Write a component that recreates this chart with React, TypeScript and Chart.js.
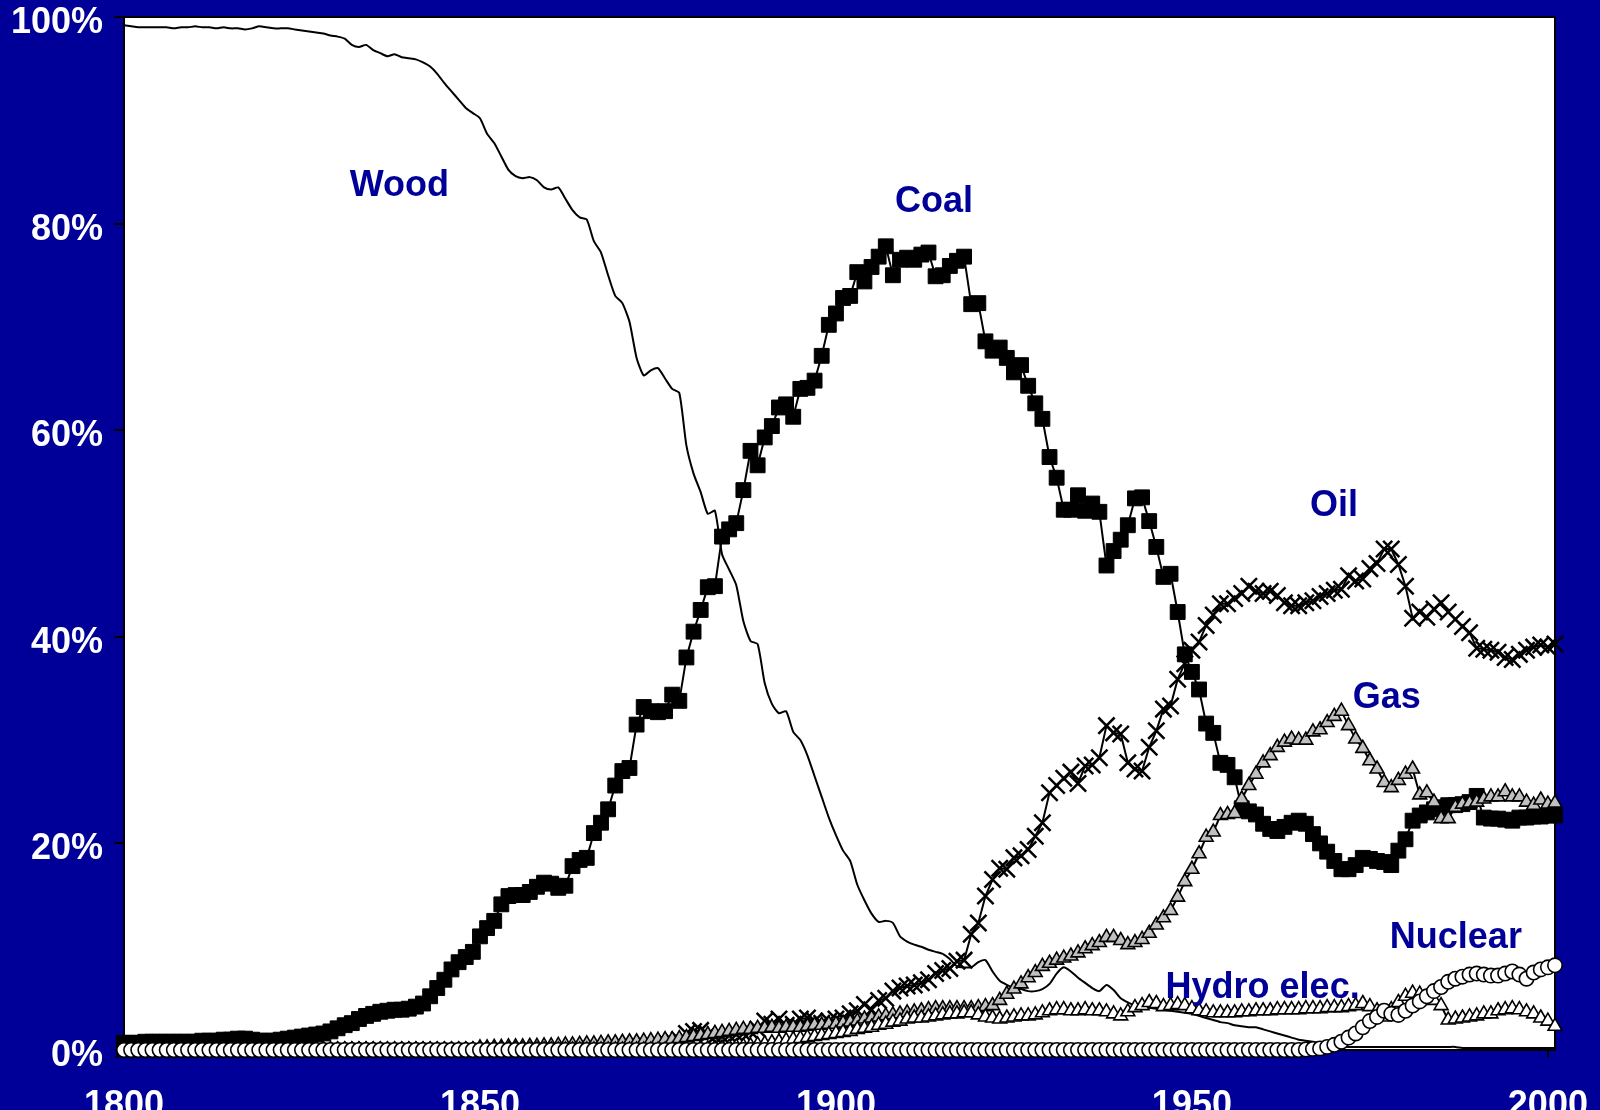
import React, { useEffect, useRef } from "react";
import { Chart, registerables } from "chart.js";

Chart.register(...registerables);

const BG = "#000099";
const LABEL_BLUE = "#000099";
const FONT = '"Liberation Sans", Arial, Helvetica, sans-serif';

const FIRST_YEAR = 1800;
const LAST_YEAR = 2001;
const YEARS: number[] = Array.from({ length: LAST_YEAR - FIRST_YEAR + 1 }, (_, i) => FIRST_YEAR + i);

const X_TICKS = [1800, 1850, 1900, 1950, 2000];
const Y_TICKS = [0, 20, 40, 60, 80, 100];

// share of primary energy, %, one value per year 1800..2001
const WOOD = [
  99.2, 99.1, 99.0, 99.0, 99.0, 99.0, 99.0, 98.9, 99.0, 99.0,
  99.1, 99.0, 99.0, 98.9, 99.0, 98.9, 98.9, 98.8, 98.9, 99.1,
  99.0, 98.9, 98.9, 98.9, 98.8, 98.7, 98.6, 98.5, 98.4, 98.2,
  98.1, 97.9, 97.3, 97.1, 97.3, 96.8, 96.5, 96.2, 96.4, 96.1,
  96.0, 95.9, 95.6, 95.2, 94.5, 93.6, 92.8, 92.0, 91.2, 90.7,
  90.2, 88.7, 87.8, 86.5, 85.2, 84.6, 84.4, 84.5, 84.2, 83.5,
  83.3, 83.5, 82.4, 81.3, 80.6, 80.4, 78.3, 77.2, 75.0, 73.0,
  72.3, 70.5, 67.0, 65.3, 65.8, 66.0, 65.0, 64.0, 63.6, 58.5,
  55.8, 54.0, 51.9, 52.2, 48.0, 46.5, 45.0, 41.5, 39.6, 39.3,
  35.5, 33.5, 32.6, 32.8, 30.8, 30.0, 28.5, 26.5, 24.5, 22.5,
  20.8, 19.3, 18.3, 16.0, 14.5, 13.2, 12.4, 12.5, 12.3, 11.0,
  10.5, 10.2, 10.0, 9.7, 9.5, 9.3, 8.8, 8.1, 8.0, 8.0,
  8.5, 8.7, 7.6, 6.7, 6.3, 6.0, 5.9, 5.7, 5.7, 5.9,
  6.4, 7.4, 8.0, 7.6, 7.0, 6.5, 6.0, 5.7, 6.3, 5.8,
  5.0, 4.6, 4.3, 4.2, 4.1, 4.0, 3.9, 3.8, 3.7, 3.6,
  3.5, 3.3, 3.1, 2.9, 2.7, 2.6, 2.4, 2.3, 2.2, 2.2,
  2.0, 1.8, 1.6, 1.4, 1.2, 1.0, 0.9, 0.8, 0.6, 0.5,
  0.4, 0.35, 0.3, 0.3, 0.3, 0.3, 0.3, 0.3, 0.3, 0.3,
  0.3, 0.3, 0.3, 0.3, 0.3, 0.3, 0.3, 0.3, 0.2, 0.2,
  0.2, 0.2, 0.2, 0.2, 0.2, 0.2, 0.2, 0.2, 0.2, 0.2,
  0.2, 0.2,
];

const COAL = [
  0.7, 0.7, 0.7, 0.8, 0.8, 0.8, 0.8, 0.8, 0.8, 0.8,
  0.8, 0.9, 0.9, 0.9, 1.0, 1.0, 1.1, 1.1, 1.0, 0.9,
  0.9, 0.9, 1.0, 1.1, 1.2, 1.3, 1.4, 1.5, 1.6, 1.8,
  2.1, 2.4, 2.6, 3.0, 3.3, 3.5, 3.7, 3.8, 3.9, 3.9,
  4.0, 4.2, 4.5, 5.2, 6.0, 6.8, 7.8, 8.5, 9.0, 9.5,
  11.0, 11.8, 12.5, 14.1, 14.9, 15.0, 15.0, 15.3, 15.8, 16.2,
  16.1, 15.7, 15.9, 17.8, 18.4, 18.6, 21.0, 22.0, 23.3, 25.6,
  27.0, 27.3, 31.5, 33.2, 32.8, 32.7, 32.8, 34.4, 33.8, 38.0,
  40.5, 42.6, 44.8, 44.9, 49.7, 50.4, 51.0, 54.2, 58.0, 56.6,
  59.3, 60.4, 62.2, 62.5, 61.3, 64.0, 64.1, 64.8, 67.2, 70.2,
  71.3, 72.8, 73.0, 75.3, 74.4, 75.8, 76.8, 77.8, 75.0, 76.5,
  76.7, 76.5, 77.0, 77.2, 74.9, 75.0, 75.9, 76.4, 76.8, 72.2,
  72.3, 68.6, 67.7, 68.0, 67.0, 65.6, 66.3, 64.3, 62.6, 61.1,
  57.4, 55.4, 52.3, 52.3, 53.7, 52.2, 52.9, 52.1, 46.9, 48.3,
  49.4, 50.8, 53.4, 53.5, 51.2, 48.7, 45.8, 46.1, 42.4, 38.3,
  36.6, 34.9, 31.6, 30.7, 27.8, 27.6, 26.4, 23.4, 23.1, 22.8,
  21.9, 21.4, 21.2, 21.6, 22.0, 22.2, 21.9, 20.9, 20.0, 19.2,
  18.3, 17.5, 17.5, 17.9, 18.6, 18.5, 18.3, 18.2, 17.9, 19.3,
  20.4, 22.2, 22.7, 23.0, 23.3, 23.5, 23.7, 23.7, 23.8, 24.0,
  24.6, 22.5, 22.4, 22.4, 22.3, 22.2, 22.5, 22.5, 22.6, 22.6,
  22.7, 22.7,
];

const OIL = [
  0, 0, 0, 0, 0, 0, 0, 0, 0, 0,
  0, 0, 0, 0, 0, 0, 0, 0, 0, 0,
  0, 0, 0, 0, 0, 0, 0, 0, 0, 0,
  0, 0, 0, 0, 0, 0, 0, 0, 0, 0,
  0, 0, 0, 0, 0, 0, 0, 0, 0, 0,
  0, 0, 0, 0, 0, 0, 0, 0, 0, 0,
  0.05, 0.1, 0.1, 0.15, 0.2, 0.2, 0.25, 0.3, 0.35, 0.4,
  0.4, 0.5, 0.5, 0.6, 0.6, 0.7, 0.8, 0.9, 1.0, 1.6,
  1.8, 1.9, 1.5, 1.3, 1.3, 1.4, 1.5, 1.6, 1.8, 2.0,
  2.8, 2.5, 3.0, 2.4, 2.5, 3.0, 3.1, 2.8, 2.6, 2.8,
  3.0, 3.1, 3.5, 3.8, 4.4, 3.9, 4.8, 5.0, 5.7, 6.0,
  6.2, 6.3, 6.5, 6.8, 7.4, 7.7, 7.9, 8.6, 8.7, 11.2,
  12.3, 14.9, 16.5, 17.6, 17.5, 18.6, 18.8, 19.4, 20.7, 22.0,
  24.9, 25.6, 26.3, 26.9, 25.8, 27.5, 27.6, 28.3, 31.4, 30.7,
  30.6, 27.8, 27.2, 27.0, 29.3, 30.9, 33.0, 33.3, 35.9, 37.4,
  38.7, 39.5, 41.1, 42.1, 43.2, 43.2, 43.7, 44.2, 44.9, 44.4,
  44.2, 44.4, 44.0, 43.3, 43.0, 43.0, 43.3, 43.5, 43.9, 44.2,
  44.5, 44.6, 45.9, 45.4, 45.6, 46.6, 47.1, 48.5, 48.5, 47.0,
  44.9, 41.8, 42.4, 41.9, 42.7, 43.3, 42.4, 41.7, 41.0, 40.4,
  38.9, 38.8, 38.7, 38.5, 38.0, 37.8, 38.3, 38.7, 39.0, 39.2,
  39.0, 39.3,
];

const GAS = [
  0, 0, 0, 0, 0, 0, 0, 0, 0, 0,
  0, 0, 0, 0, 0, 0, 0, 0, 0, 0,
  0, 0, 0, 0, 0, 0, 0, 0, 0, 0,
  0, 0, 0, 0, 0, 0, 0, 0, 0, 0,
  0, 0, 0, 0, 0, 0, 0, 0, 0, 0,
  0.2, 0.2, 0.25, 0.25, 0.3, 0.3, 0.3, 0.35, 0.35, 0.4,
  0.4, 0.45, 0.5, 0.5, 0.55, 0.6, 0.6, 0.65, 0.7, 0.7,
  0.75, 0.8, 0.8, 0.85, 0.9, 0.95, 1.0, 1.0, 1.1, 1.2,
  1.3, 1.4, 1.5, 1.6, 1.7, 1.8, 1.9, 2.0, 2.0, 2.1,
  2.1, 2.2, 2.1, 2.2, 2.2, 2.2, 2.3, 2.4, 2.4, 2.5,
  2.5, 2.6, 2.7, 2.8, 3.0, 3.1, 3.2, 3.3, 3.4, 3.5,
  3.6, 3.7, 3.8, 3.9, 4.0, 4.0, 4.0, 4.0, 4.0, 4.0,
  4.1, 4.2, 4.3, 4.8, 5.4, 5.9, 6.4, 7.0, 7.5, 8.1,
  8.4, 8.7, 8.9, 9.1, 9.4, 9.8, 10.1, 10.4, 10.9, 10.9,
  10.6, 10.2, 10.4, 10.7, 11.3, 12.1, 12.8, 13.5, 14.8, 16.3,
  17.5, 19.0, 20.6, 21.1, 22.7, 22.8, 22.9, 24.3, 25.6, 26.7,
  27.8, 28.5, 29.3, 29.8, 30.1, 30.0, 30.0, 30.8, 31.0, 31.7,
  32.3, 32.8, 31.4, 30.1, 29.2, 28.0, 27.2, 25.9, 25.4, 26.1,
  26.7, 27.2, 24.7, 24.9, 24.0, 22.4, 22.4, 23.5, 23.8, 23.9,
  24.0, 24.3, 24.5, 24.5, 25.0, 24.5, 24.5, 24.0, 23.7, 24.2,
  23.8, 23.9,
];

const HYDRO = [
  0, 0, 0, 0, 0, 0, 0, 0, 0, 0,
  0, 0, 0, 0, 0, 0, 0, 0, 0, 0,
  0, 0, 0, 0, 0, 0, 0, 0, 0, 0,
  0, 0, 0, 0, 0, 0, 0, 0, 0, 0,
  0, 0, 0, 0, 0, 0, 0, 0, 0, 0,
  0, 0, 0, 0, 0, 0, 0, 0, 0, 0,
  0, 0, 0, 0, 0, 0, 0, 0, 0, 0,
  0, 0, 0, 0, 0, 0, 0, 0, 0, 0,
  0.05, 0.1, 0.1, 0.15, 0.2, 0.25, 0.3, 0.35, 0.4, 0.5,
  0.6, 0.7, 0.8, 0.9, 1.0, 1.1, 1.2, 1.3, 1.4, 1.5,
  1.6, 1.7, 1.8, 2.0, 2.1, 2.2, 2.4, 2.5, 2.7, 2.8,
  3.0, 3.1, 3.1, 3.2, 3.3, 3.4, 3.5, 3.5, 3.6, 3.6,
  3.4, 3.2, 3.1, 3.0, 3.1, 3.2, 3.3, 3.3, 3.4, 3.6,
  3.8, 3.9, 3.9, 3.8, 3.8, 3.9, 3.8, 3.8, 3.7, 3.5,
  3.3, 3.7, 4.1, 4.3, 4.6, 4.5, 4.2, 4.3, 4.4, 4.3,
  4.0, 3.8, 3.7, 3.6, 3.6, 3.6, 3.6, 3.7, 3.7, 3.8,
  3.8, 3.8, 3.9, 3.9, 3.9, 3.9, 4.0, 4.0, 4.0, 4.1,
  4.1, 4.1, 4.2, 4.3, 4.5, 4.2, 3.8, 3.2, 3.9, 4.6,
  5.2, 5.5, 5.4, 5.1, 4.8, 4.3, 2.9, 3.0, 3.1, 3.2,
  3.3, 3.5, 3.5, 3.8, 3.9, 4.0, 3.9, 3.7, 3.5, 3.1,
  2.8, 2.3,
];

const NUCLEAR = [
  0, 0, 0, 0, 0, 0, 0, 0, 0, 0,
  0, 0, 0, 0, 0, 0, 0, 0, 0, 0,
  0, 0, 0, 0, 0, 0, 0, 0, 0, 0,
  0, 0, 0, 0, 0, 0, 0, 0, 0, 0,
  0, 0, 0, 0, 0, 0, 0, 0, 0, 0,
  0, 0, 0, 0, 0, 0, 0, 0, 0, 0,
  0, 0, 0, 0, 0, 0, 0, 0, 0, 0,
  0, 0, 0, 0, 0, 0, 0, 0, 0, 0,
  0, 0, 0, 0, 0, 0, 0, 0, 0, 0,
  0, 0, 0, 0, 0, 0, 0, 0, 0, 0,
  0, 0, 0, 0, 0, 0, 0, 0, 0, 0,
  0, 0, 0, 0, 0, 0, 0, 0, 0, 0,
  0, 0, 0, 0, 0, 0, 0, 0, 0, 0,
  0, 0, 0, 0, 0, 0, 0, 0, 0, 0,
  0, 0, 0, 0, 0, 0, 0, 0, 0, 0,
  0, 0, 0, 0, 0, 0, 0, 0, 0, 0,
  0, 0, 0, 0, 0, 0, 0.05, 0.1, 0.15, 0.3,
  0.5, 0.8, 1.2, 1.6, 2.2, 2.8, 3.2, 3.8, 3.5, 3.4,
  3.8, 4.3, 4.7, 5.2, 5.7, 6.1, 6.6, 6.9, 7.1, 7.3,
  7.4, 7.3, 7.2, 7.2, 7.4, 7.6, 7.3, 6.9, 7.5, 7.8,
  8.0, 8.2,
];

// series names and where their names sit (year, percent)
const SERIES_LABELS = [
  { text: "Wood", year: 1831.7, pct: 83.6 },
  { text: "Coal", year: 1908.3, pct: 82.1 },
  { text: "Oil", year: 1966.6, pct: 52.7 },
  { text: "Gas", year: 1972.6, pct: 34.1 },
  { text: "Nuclear", year: 1977.8, pct: 10.8 },
  { text: "Hydro elec.", year: 1946.3, pct: 6.0 },
];

const toPoints = (arr: number[]) => YEARS.map((x, i) => ({ x, y: arr[i] }));

const framePlugin = {
  id: "frame",
  beforeDraw(chart: any) {
    const { ctx, chartArea: a, width, height } = chart;
    ctx.save();
    ctx.fillStyle = BG;
    ctx.fillRect(0, 0, width, height);
    ctx.fillStyle = "#ffffff";
    ctx.fillRect(a.left, a.top, a.right - a.left, a.bottom - a.top);
    ctx.restore();
  },
  beforeDatasetsDraw(chart: any) {
    const { ctx, chartArea: a } = chart;
    ctx.save();
    ctx.strokeStyle = "#000000";
    ctx.lineWidth = 2;
    ctx.strokeRect(a.left, a.top, a.right - a.left, a.bottom - a.top);
    ctx.restore();
  },
};

const labelPlugin = {
  id: "seriesLabels",
  afterDatasetsDraw(chart: any) {
    const { ctx } = chart;
    const xs = chart.scales.x;
    const ys = chart.scales.y;
    ctx.save();
    ctx.fillStyle = LABEL_BLUE;
    ctx.font = `bold 36px ${FONT}`;
    ctx.textAlign = "left";
    ctx.textBaseline = "middle";
    SERIES_LABELS.forEach((l) => {
      ctx.fillText(l.text, xs.getPixelForValue(l.year), ys.getPixelForValue(l.pct));
    });
    ctx.restore();
  },
};

export default function App() {
  const ref = useRef<HTMLCanvasElement | null>(null);

  useEffect(() => {
    document.body.style.margin = "0";
    document.body.style.background = BG;
    const canvas = ref.current;
    if (!canvas) return;

    const common = {
      borderColor: "#000000",
      borderWidth: 2,
      tension: 0,
      clip: false as any,
      pointBorderColor: "#000000",
    };

    const chart = new Chart(canvas, {
      type: "line",
      data: {
        datasets: [
          {
            ...common,
            label: "Nuclear",
            data: toPoints(NUCLEAR),
            pointStyle: "circle",
            pointRadius: 7.2,
            pointBackgroundColor: "#ffffff",
            pointBorderWidth: 1.6,
          },
          {
            ...common,
            label: "Hydro elec.",
            data: toPoints(HYDRO),
            pointStyle: "triangle",
            pointRadius: 8,
            pointBackgroundColor: "#ffffff",
            pointBorderWidth: 1.6,
          },
          {
            ...common,
            label: "Gas",
            data: toPoints(GAS),
            pointStyle: "triangle",
            pointRadius: 8,
            pointBackgroundColor: "#c0c0c0",
            pointBorderWidth: 1.6,
          },
          {
            ...common,
            label: "Oil",
            data: toPoints(OIL),
            pointStyle: "crossRot",
            pointRadius: 11.5,
            pointBorderWidth: 2.5,
          },
          {
            ...common,
            label: "Coal",
            data: toPoints(COAL),
            pointStyle: "rect",
            pointRadius: 10.5,
            pointBackgroundColor: "#000000",
            pointBorderWidth: 1,
          },
          {
            ...common,
            label: "Wood",
            data: toPoints(WOOD),
            pointRadius: 0,
            tension: 0.2,
          },
        ] as any,
      },
      options: {
        animation: false,
        responsive: false,
        devicePixelRatio: 1,
        layout: { padding: { top: 17, right: 45, left: 0, bottom: 0 } },
        plugins: {
          legend: { display: false },
          tooltip: { enabled: false },
        },
        scales: {
          x: {
            type: "linear",
            min: FIRST_YEAR,
            max: LAST_YEAR,
            afterBuildTicks: (s: any) => {
              s.ticks = X_TICKS.map((v) => ({ value: v }));
            },
            afterFit: (s: any) => {
              s.height = 60;
              s.paddingLeft = 0;
              s.paddingRight = 0;
              s.paddingTop = 0;
              s.paddingBottom = 0;
            },
            grid: {
              display: true,
              drawOnChartArea: false,
              drawTicks: true,
              tickLength: 8,
              color: "#000000",
              lineWidth: 2,
            },
            border: { display: false },
            ticks: {
              color: "#ffffff",
              font: { family: FONT, size: 36, weight: "bold" },
              padding: 26,
              maxRotation: 0,
              autoSkip: false,
              callback: (v: any) => String(v),
            },
          },
          y: {
            type: "linear",
            min: 0,
            max: 100,
            afterBuildTicks: (s: any) => {
              s.ticks = Y_TICKS.map((v) => ({ value: v }));
            },
            afterFit: (s: any) => {
              s.width = 124;
              s.paddingLeft = 0;
              s.paddingRight = 0;
              s.paddingTop = 0;
              s.paddingBottom = 0;
            },
            grid: {
              display: true,
              drawOnChartArea: false,
              drawTicks: true,
              tickLength: 10,
              color: "#000000",
              lineWidth: 2,
            },
            border: { display: false },
            ticks: {
              color: "#ffffff",
              font: { family: FONT, size: 36, weight: "bold", lineHeight: 0.9 },
              padding: 11,
              labelOffset: 6,
              autoSkip: false,
              callback: (v: any) => `${v}%`,
            },
          },
        },
      } as any,
      plugins: [framePlugin, labelPlugin],
    });

    return () => {
      chart.destroy();
    };
  }, []);

  return (
    <div style={{ position: "fixed", left: 0, top: 0, width: 1600, height: 1110, background: BG }}>
      <canvas ref={ref} width={1600} height={1110} style={{ display: "block", width: 1600, height: 1110 }} />
    </div>
  );
}
